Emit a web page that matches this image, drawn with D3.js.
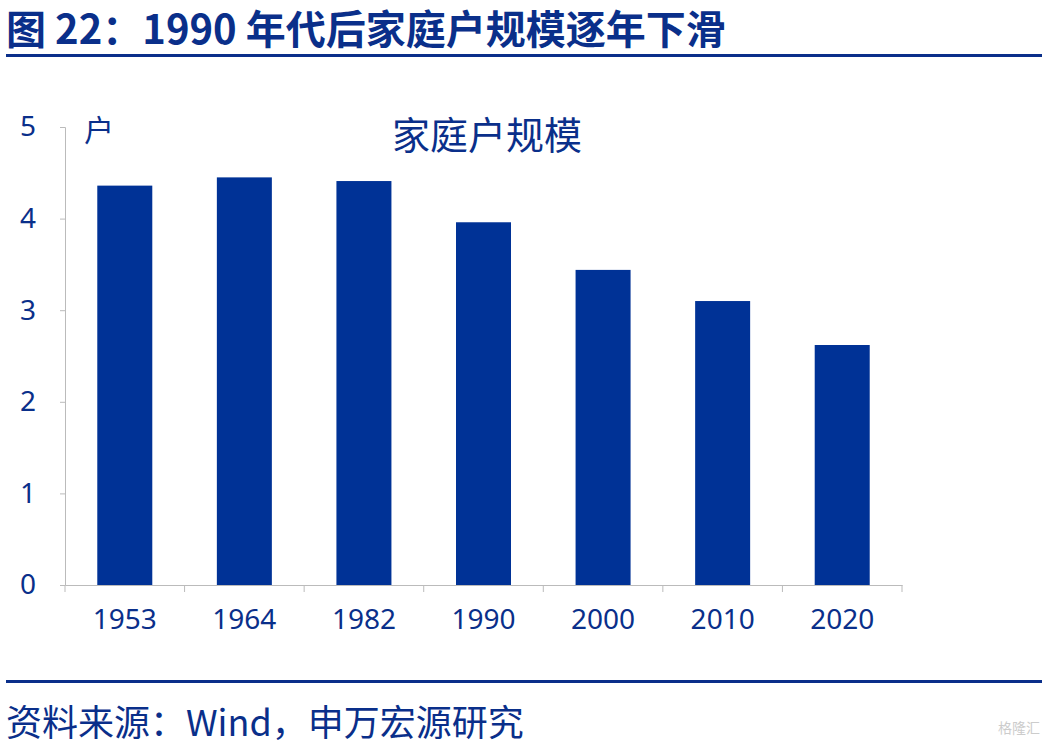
<!DOCTYPE html>
<html><head><meta charset="utf-8">
<script src="https://cdn.jsdelivr.net/npm/d3@7"></script>
<style>body{margin:0;background:#fff;font-family:"Noto Sans CJK SC","Noto Sans",sans-serif}</style>
</head><body><svg id="c" width="1049" height="746"></svg>
<script>
const years = ['1953', '1964', '1982', '1990', '2000', '2010', '2020'];
const households = [4.36, 4.45, 4.41, 3.96, 3.44, 3.10, 2.62];
const yTicks = [0, 1, 2, 3, 4, 5];

const svg = d3.select('#c');
const navy = '#0a2f8a';

// title and rules
svg.append('text').attr('x', 6).attr('y', 44).attr('fill', navy)
  .attr('font-size', 40).attr('font-weight', 'bold').text('图 22：1990 年代后家庭户规模逐年下滑');
svg.append('rect').attr('x', 6).attr('y', 54).attr('width', 1036).attr('height', 3).attr('fill', navy);
svg.append('rect').attr('x', 6).attr('y', 680).attr('width', 1036).attr('height', 3).attr('fill', navy);
svg.append('text').attr('x', 6).attr('y', 736).attr('fill', navy)
  .attr('font-size', 36).text('资料来源：Wind，申万宏源研究');
svg.append('text').attr('x', 1040).attr('y', 733).attr('text-anchor', 'end').attr('fill', '#ccc')
  .attr('font-size', 14).text('格隆汇');

const x = d3.scaleBand().domain(years).range([65, 902]).paddingInner(0.54).paddingOuter(0.27);
const y = d3.scaleLinear().domain([0, 5]).range([585, 127]);

svg.append('g').selectAll('rect').data(households).join('rect')
  .attr('x', (d, i) => x(years[i])).attr('width', x.bandwidth())
  .attr('y', d => y(d)).attr('height', d => y(0) - y(d)).attr('fill', '#003296');

// y axis
const ya = svg.append('g').attr('transform', 'translate(65,0)')
  .call(d3.axisLeft(y).tickValues(yTicks).tickSize(5).tickFormat(d3.format('d')));
ya.select('.domain').attr('stroke', '#bbb');
ya.selectAll('line').attr('stroke', '#bbb');
ya.selectAll('text').attr('fill', navy).attr('font-size', 28).attr('x', -29)
  .attr('font-family', '"Noto Sans",sans-serif');

// x axis
const xa = svg.append('g').attr('transform', 'translate(0,585)')
  .call(d3.axisBottom(x).tickSize(0).tickPadding(24));
xa.select('.domain').attr('stroke', '#bbb');
xa.selectAll('text').attr('fill', navy).attr('font-size', 28).attr('font-family', '"Noto Sans",sans-serif');
const bounds = d3.range(years.length + 1).map(i => 65 + i * (902 - 65) / years.length);
svg.append('g').selectAll('line').data(bounds).join('line')
  .attr('x1', d => d).attr('x2', d => d).attr('y1', 585).attr('y2', 592).attr('stroke', '#bbb');

svg.append('text').attr('x', 84).attr('y', 141).attr('fill', navy).attr('font-size', 30).text('户');
svg.append('text').attr('x', 487).attr('y', 149).attr('text-anchor', 'middle').attr('fill', navy)
  .attr('font-size', 38).text('家庭户规模');
</script></body></html>
